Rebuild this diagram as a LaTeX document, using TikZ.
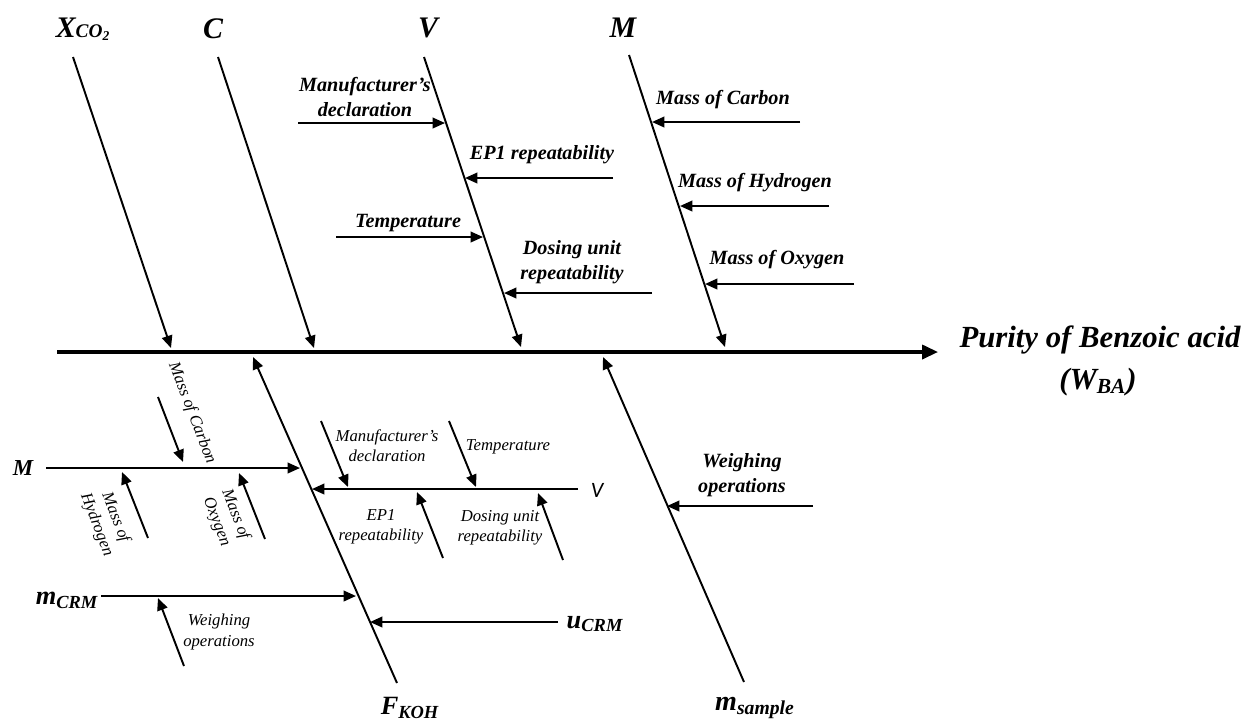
\documentclass[tikz,border=0pt]{standalone}
\usepackage{fontspec}
\setmainfont{Liberation Serif}
\newfontfamily\calib{Carlito}
\usetikzlibrary{arrows.meta}
\begin{document}
\begin{tikzpicture}[x=0.02cm,y=-0.02cm,
  big/.style={font=\fontsize{17}{20}\selectfont\bfseries\itshape, inner sep=0pt},
  mid/.style={font=\fontsize{15}{18}\selectfont\bfseries\itshape, inner sep=0pt},
  lab/.style={font=\fontsize{11.5}{14}\selectfont\bfseries\itshape, align=center, inner sep=0pt},
  sm/.style={font=\fontsize{9.5}{11.5}\selectfont\itshape, align=center, inner sep=0pt},
  arr/.style={line width=1.1pt,-{Triangle[length=7pt,width=6pt]}},
  spine/.style={line width=1.8pt,-{Triangle[length=9pt,width=8pt]}}]
\useasboundingbox (0,0) rectangle (1250,725);

% ---------- main spine ----------
\coordinate (s0) at (57,352);
\coordinate (s1) at (938,352);
\draw[spine] (s0) -- (s1);
\node[font=\fontsize{17.5}{21}\selectfont\bfseries\itshape, inner sep=0pt] (purity) at (1100,340) {Purity of Benzoic acid};
\node[font=\fontsize{17.5}{21}\selectfont\bfseries\itshape, inner sep=0pt] (wba) at (1098,382) {(W\textsubscript{BA})};

% ---------- top bones ----------
\node[big] (xco) at (83,29) {X{\fontsize{11}{13}\selectfont CO\textsubscript{2}}};
\node[big] (cl) at (213,29) {C};
\node[big] (vl) at (428,28) {V};
\node[big] (ml) at (623,28) {M};

\coordinate (xcoT) at (73,57);  \coordinate (xcoH) at (171,348);
\coordinate (cT) at (218,57);   \coordinate (cH) at (314,348);
\coordinate (vT) at (424,57);   \coordinate (vH) at (521,347);
\coordinate (mT) at (629,55);   \coordinate (mH) at (725,347);
\draw[arr] (xcoT) -- (xcoH);
\draw[arr] (cT) -- (cH);
\draw[arr] (vT) -- (vH);
\draw[arr] (mT) -- (mH);

% causes on V
\node[lab] (manuT) at (365,97) {Manufacturer's\\declaration};
\coordinate (manuTs) at (298,123); \coordinate (manuTe) at (445,123);
\draw[arr] (manuTs) -- (manuTe);
\node[lab] (ep1T) at (542,155) {EP1 repeatability};
\coordinate (ep1Ts) at (613,178); \coordinate (ep1Te) at (465,178);
\draw[arr] (ep1Ts) -- (ep1Te);
\node[lab] (tempT) at (408,223) {Temperature};
\coordinate (tempTs) at (336,237); \coordinate (tempTe) at (483,237);
\draw[arr] (tempTs) -- (tempTe);
\node[lab] (dosT) at (572,262) {Dosing unit\\repeatability};
\coordinate (dosTs) at (652,293); \coordinate (dosTe) at (504,293);
\draw[arr] (dosTs) -- (dosTe);

% causes on M
\node[lab] (carT) at (723,100) {Mass of Carbon};
\coordinate (carTs) at (800,122); \coordinate (carTe) at (652,122);
\draw[arr] (carTs) -- (carTe);
\node[lab] (hydT) at (755,183) {Mass of Hydrogen};
\coordinate (hydTs) at (829,206); \coordinate (hydTe) at (680,206);
\draw[arr] (hydTs) -- (hydTe);
\node[lab] (oxyT) at (777,260) {Mass of Oxygen};
\coordinate (oxyTs) at (854,284); \coordinate (oxyTe) at (705,284);
\draw[arr] (oxyTs) -- (oxyTe);

% ---------- bottom bones ----------
\node[mid] (fkoh) at (410,708) {F\textsubscript{KOH}};
\coordinate (fT) at (397,683); \coordinate (fH) at (253,357);
\draw[arr] (fT) -- (fH);

\node[font=\fontsize{16}{19}\selectfont\bfseries\itshape, inner sep=0pt] (msam) at (755,708) {m\textsubscript{sample}};
\coordinate (msT) at (744,682); \coordinate (msH) at (603,357);
\draw[arr] (msT) -- (msH);

\node[lab] (weighR) at (742,475) {Weighing\\operations};
\coordinate (weighRs) at (813,506); \coordinate (weighRe) at (667,506);
\draw[arr] (weighRs) -- (weighRe);

% M sub-branch
\node[font=\fontsize{13}{15}\selectfont\bfseries\itshape, inner sep=0pt] (mlow) at (23,468) {M};
\coordinate (mbs) at (46,468); \coordinate (mbe) at (300,468);
\draw[arr] (mbs) -- (mbe);
\node[sm, rotate=-69] (carL) at (192,413) {Mass of Carbon};
\coordinate (carLs) at (158,397); \coordinate (carLe) at (183,462);
\draw[arr] (carLs) -- (carLe);
\node[sm, rotate=-69] (hydL) at (106,521) {Mass of\\Hydrogen};
\coordinate (hydLs) at (148,538); \coordinate (hydLe) at (122,472);
\draw[arr] (hydLs) -- (hydLe);
\node[sm, rotate=-69] (oxyL) at (226,518) {Mass of\\Oxygen};
\coordinate (oxyLs) at (265,539); \coordinate (oxyLe) at (239,473);
\draw[arr] (oxyLs) -- (oxyLe);

% V sub-branch
\node[font=\fontsize{12.5}{14}\selectfont\calib\itshape, inner sep=0pt] (vlow) at (597,490) {V};
\coordinate (vbs) at (578,489); \coordinate (vbe) at (312,489);
\draw[arr] (vbs) -- (vbe);
\node[sm] (manuL) at (387,446) {Manufacturer's\\declaration};
\coordinate (manuLs) at (321,421); \coordinate (manuLe) at (348,487);
\draw[arr] (manuLs) -- (manuLe);
\node[sm] (tempL) at (508,447) {Temperature};
\coordinate (tempLs) at (449,421); \coordinate (tempLe) at (476,487);
\draw[arr] (tempLs) -- (tempLe);
\node[sm] (ep1L) at (381,527) {EP1\\repeatability};
\coordinate (ep1Ls) at (443,558); \coordinate (ep1Le) at (417,492);
\draw[arr] (ep1Ls) -- (ep1Le);
\node[sm] (dosL) at (500,528) {Dosing unit\\repeatability};
\coordinate (dosLs) at (563,560); \coordinate (dosLe) at (538,493);
\draw[arr] (dosLs) -- (dosLe);

% m_CRM and u_CRM
\node[font=\fontsize{15}{18}\selectfont\bfseries\itshape, inner sep=0pt] (mcrm) at (67,600) {m\textsubscript{CRM}};
\coordinate (mcs) at (101,596); \coordinate (mce) at (356,596);
\draw[arr] (mcs) -- (mce);
\node[sm] (weighL) at (219,632) {Weighing\\operations};
\coordinate (weighLs) at (184,666); \coordinate (weighLe) at (158,598);
\draw[arr] (weighLs) -- (weighLe);

\node[font=\fontsize{15}{18}\selectfont\bfseries\itshape, inner sep=0pt] (ucrm) at (595,624) {u\textsubscript{CRM}};
\coordinate (ucs) at (558,622); \coordinate (uce) at (370,622);
\draw[arr] (ucs) -- (uce);
\end{tikzpicture}
\end{document}
